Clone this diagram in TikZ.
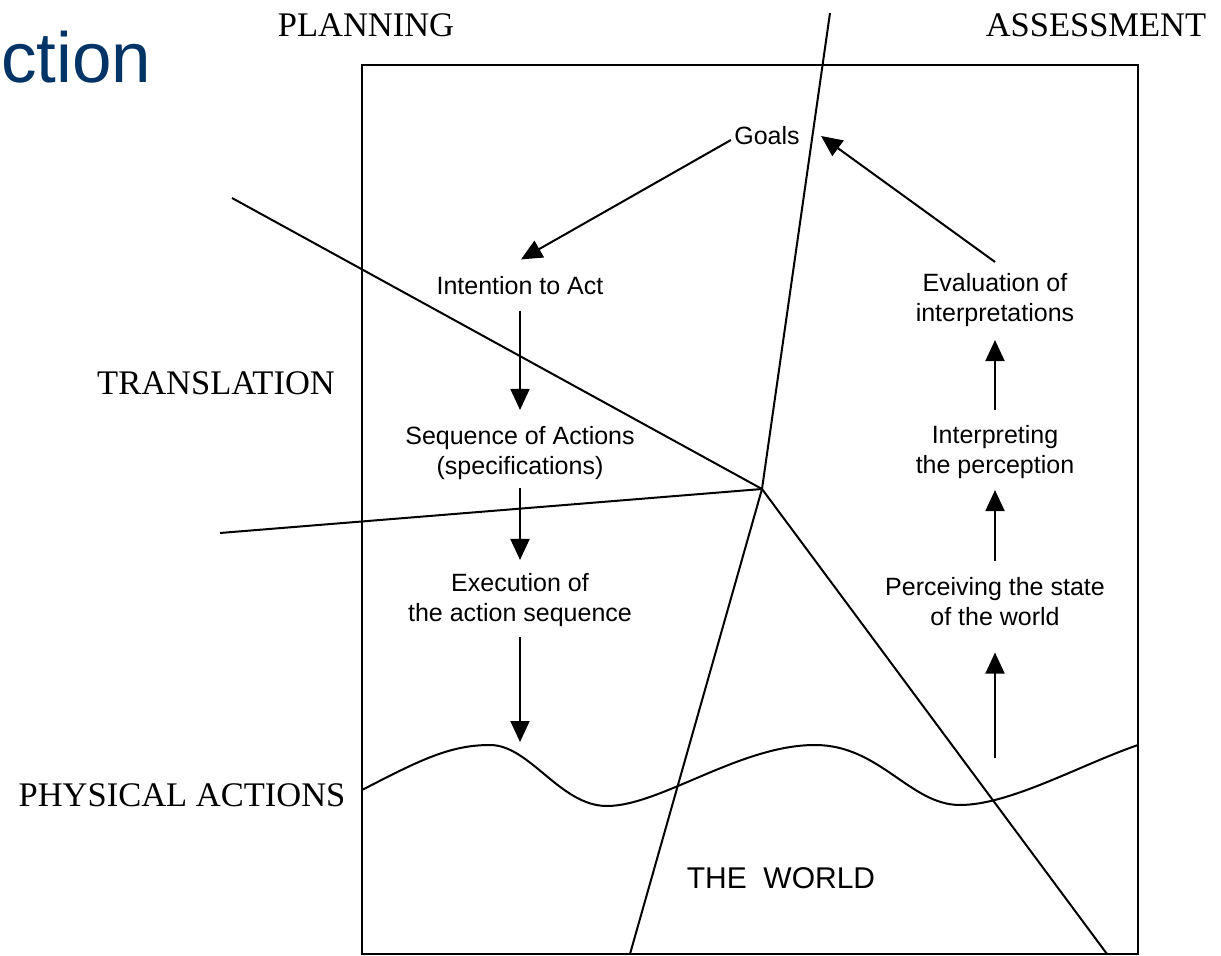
\documentclass[tikz,border=0pt]{standalone}
\usepackage{fontspec}
\setmainfont{Liberation Serif}
\setsansfont{Liberation Sans}
\usetikzlibrary{arrows.meta}
\definecolor{titleblue}{RGB}{0,51,102}

\begin{document}
\begin{tikzpicture}[x=0.5pt,y=-0.5pt]
    \tikzset{
        stage/.style={font=\sffamily\fontsize{12.5}{15}\selectfont,align=center,inner sep=0pt},
        zone/.style={font=\fontsize{17.25}{20}\selectfont,inner sep=0pt},
        arr/.style={-{Triangle[length=10.5pt,width=9.5pt]},line width=1pt},
        rule/.style={line width=1pt},}
    \def\wavepath{(362,790) .. controls (420,760) and (450,745) .. (490,745)
        .. controls (530,745) and (560,806) .. (607,806)
        .. controls (660,806) and (740,745) .. (815,745)
        .. controls (880,745) and (910,805) .. (960,805)
        .. controls (1010,805) and (1080,765) .. (1138,745)}
    \useasboundingbox (0,0) rectangle (1221,956);
    % frame and dividing lines
    \draw [rule] (362,65) rectangle (1138,954);
    \coordinate (hub) at (762,489);
    \draw [rule] (830,13) -- (hub) -- (630,954);
    \draw [rule] (232,198) -- (hub) -- (1107,954);
    \draw [rule] (220,533) -- (hub);
    \draw [rule] \wavepath;
    % zone names
    \node [inner sep=0pt,text=titleblue,font=\sffamily\fontsize{35.5}{40}\selectfont] (title) at (76,57) {ction};
    \node [zone] (plan) at (366,25) {PLANNING};
    \node [zone] (assess) at (1096,25) {ASSESSMENT};
    \node [zone] (transl) at (216,383) {TRANSLATION};
    \node [zone] (phys) at (182,795) {PHYSICAL ACTIONS};
    \node [stage,font=\sffamily\fontsize{15}{18}\selectfont] (world) at (781,878) {THE\ \ WORLD};
    % stages
    \node [stage] (goals) at (767,136) {Goals};
    \node [stage] (intent) at (520,286) {Intention to Act};
    \node [stage] (seq) at (520,453) {Sequence of Actions\\(specifications)};
    \node [stage] (exec) at (520,600) {Execution of\\the action sequence};
    \node [stage] (eval) at (995,300) {Evaluation of\\interpretations};
    \node [stage] (interp) at (995,452) {Interpreting\\the perception};
    \node [stage] (perc) at (995,602) {Perceiving the state\\of the world};
    \coordinate (act) at (520,752);
    \coordinate (sense) at (995,758);
    % the cycle
    \draw [arr] ([shift={(-3,4)}]goals.west) -- ([shift={(1,-17)}]intent.north);
    \draw [arr] ([shift={(0,15)}]intent.south) -- ([shift={(0,-16)}]seq.north);
    \draw [arr] ([shift={(0,8)}]seq.south) -- ([shift={(0,-13)}]exec.north);
    \draw [arr] ([shift={(0,10)}]exec.south) -- ([shift={(0,-10)}]act);
    \draw [arr] (sense) -- ([shift={(0,26)}]perc.south);
    \draw [arr] ([shift={(0,-16)}]perc.north) -- ([shift={(0,11)}]interp.south);
    \draw [arr] ([shift={(0,-15)}]interp.north) -- ([shift={(0,13)}]eval.south);
    \draw [arr] ([shift={(0,-11)}]eval.north) -- ([shift={(21,0)}]goals.east);
\end{tikzpicture}
\end{document}
